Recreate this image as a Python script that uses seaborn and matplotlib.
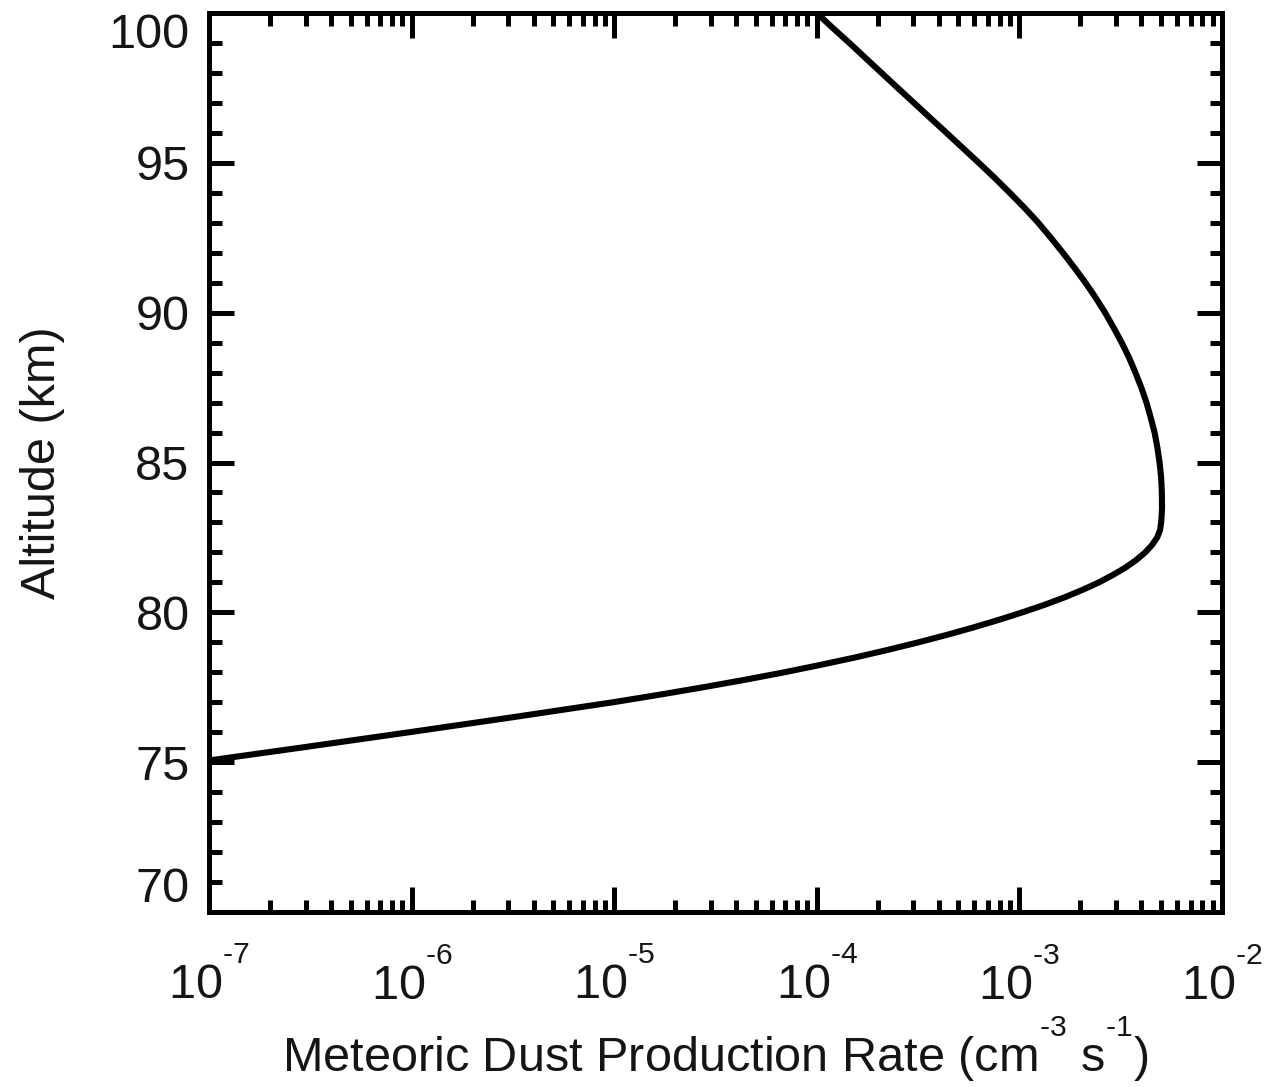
import matplotlib
matplotlib.use("Agg")
import matplotlib.pyplot as plt
from matplotlib import _mathtext
import numpy as np
import pandas as pd
import seaborn as sns
from matplotlib.ticker import FixedLocator, FixedFormatter, LogLocator, MultipleLocator, NullFormatter

# Meteoric dust production profile
altitude_km = [75.0, 75.5, 76.0, 76.5, 77.0, 77.25, 77.5, 77.75, 78.0, 78.25,
               78.5, 78.75, 79.0, 79.25, 79.5, 79.75, 80.0, 80.25, 80.5, 80.75,
               81.0, 81.25, 81.5, 81.75, 82.0, 82.25, 82.5, 82.75, 83.0, 83.25,
               83.5, 84.0, 84.5, 85.0, 85.5, 86.0, 86.5, 87.0, 87.5, 88.0,
               88.5, 89.0, 89.5, 90.0, 90.5, 91.0, 91.5, 92.0, 92.5, 93.0,
               93.5, 94.0, 94.5, 95.0, 95.5, 96.0, 96.5, 97.0, 97.5, 98.0,
               98.5, 99.0, 99.5, 100.0]
production_rate = [8.71e-8, 2.95e-7, 9.77e-7, 3.16e-6, 9.89e-6, 1.67e-5, 2.75e-5, 4.43e-5, 6.92e-5, 1.05e-4,
                   1.56e-4, 2.25e-4, 3.18e-4, 4.40e-4, 5.96e-4, 7.92e-4, 1.035e-3, 1.33e-3, 1.67e-3, 2.05e-3,
                   2.47e-3, 2.90e-3, 3.35e-3, 3.78e-3, 4.18e-3, 4.52e-3, 4.79e-3, 4.95e-3, 5.01e-3, 5.04e-3,
                   5.06e-3, 5.05e-3, 5.01e-3, 4.92e-3, 4.80e-3, 4.65e-3, 4.45e-3, 4.24e-3, 4.00e-3, 3.74e-3,
                   3.48e-3, 3.20e-3, 2.92e-3, 2.65e-3, 2.38e-3, 2.12e-3, 1.87e-3, 1.64e-3, 1.43e-3, 1.24e-3,
                   1.06e-3, 8.97e-4, 7.55e-4, 6.31e-4, 5.25e-4, 4.37e-4, 3.63e-4, 3.02e-4, 2.51e-4, 2.09e-4,
                   1.74e-4, 1.45e-4, 1.20e-4, 1.00e-4]

x_ticks = [1e-7, 1e-6, 1e-5, 1e-4, 1e-3, 1e-2]
x_tick_labels = ["10$^{\u20107}$", "10$^{\u20106}$", "10$^{\u20105}$",
                 "10$^{\u20104}$", "10$^{\u20103}$", "10$^{\u20102}$"]
y_ticks = [70, 75, 80, 85, 90, 95, 100]
y_tick_labels = ["70", "75", "80", "85", "90", "95", "100"]

sns.set_theme(style="ticks")
plt.rcParams["font.family"] = ["Liberation Sans", "DejaVu Sans"]
plt.rcParams["mathtext.fontset"] = "custom"
plt.rcParams["mathtext.rm"] = "Liberation Sans"
plt.rcParams["mathtext.it"] = "Liberation Sans:italic"
plt.rcParams["mathtext.bf"] = "Liberation Sans:bold"
plt.rcParams["mathtext.default"] = "regular"

# smaller, higher exponents
_mathtext.FontConstantsBase.sup1 = 1.35
_mathtext.SHRINK_FACTOR = 0.62

text_color = "#151515"

fig = plt.figure(figsize=(12.75, 10.87), dpi=100)
ax = fig.add_axes([0.1639, 0.161, 0.7945, 0.827])

df = pd.DataFrame({"rate": production_rate, "altitude": altitude_km})
sns.lineplot(data=df, x="rate", y="altitude", sort=False, estimator=None,
             color="black", linewidth=4.4, ax=ax, solid_joinstyle="round")

ax.set_xscale("log")
ax.set_xlim(1e-7, 1e-2)
ax.set_ylim(70, 100)

ax.xaxis.set_major_locator(FixedLocator(x_ticks))
ax.xaxis.set_major_formatter(FixedFormatter(x_tick_labels))
ax.xaxis.set_minor_locator(LogLocator(base=10, subs=np.arange(2, 10), numticks=20))
ax.xaxis.set_minor_formatter(NullFormatter())
ax.yaxis.set_major_locator(FixedLocator(y_ticks))
ax.yaxis.set_major_formatter(FixedFormatter(y_tick_labels))
ax.yaxis.set_minor_locator(MultipleLocator(1))

ax.tick_params(which="both", direction="in", top=True, right=True,
               width=3.6, color="black", labelcolor=text_color)
ax.tick_params(which="major", length=18, labelsize=35)
ax.tick_params(axis="x", which="major", pad=27)
ax.tick_params(axis="y", which="major", pad=14)
ax.tick_params(which="minor", length=9)
for spine in ax.spines.values():
    spine.set_linewidth(3.6)
    spine.set_color("black")

# keep the end labels inside the axis span
ylabels = ax.get_yticklabels()
ylabels[0].set_va("bottom")
ylabels[-1].set_va("top")

ax.set_xlabel("Meteoric Dust Production Rate (cm$^{\u20103}$ s$^{\u20101}$)",
              fontsize=35, color=text_color, labelpad=3)
ax.set_ylabel("Altitude (km)", fontsize=35, color=text_color, labelpad=31)

fig.savefig("out.png", dpi=100)
